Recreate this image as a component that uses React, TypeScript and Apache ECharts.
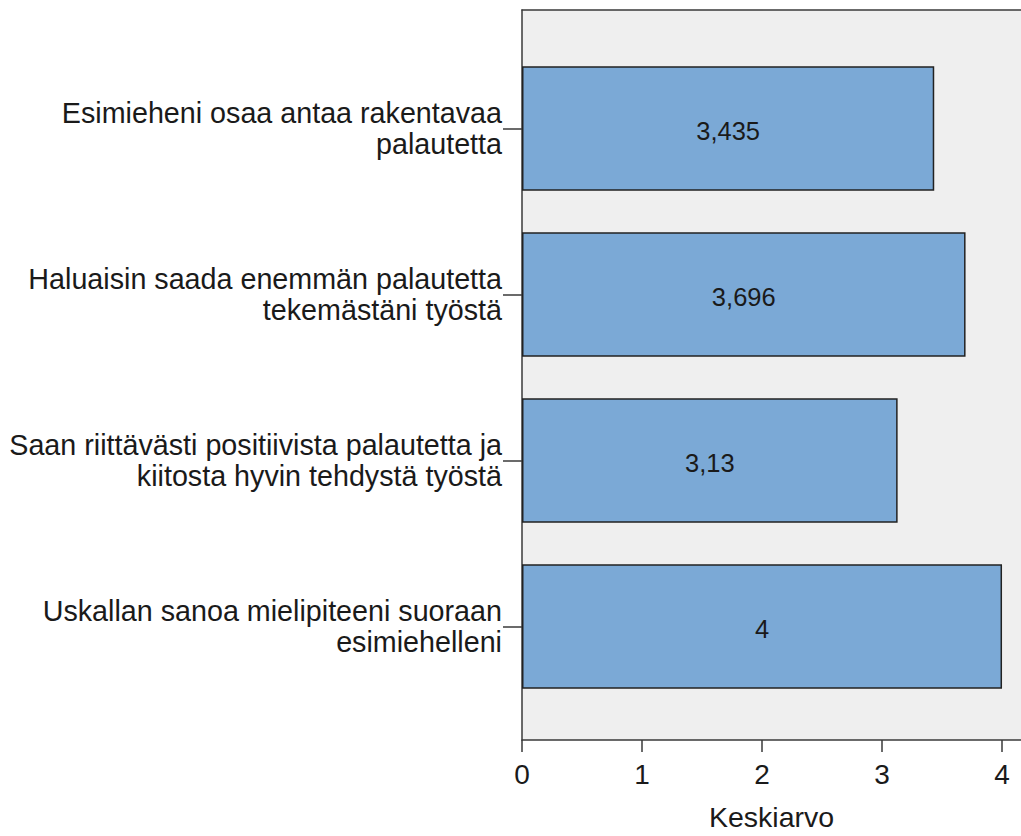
import React, { useEffect, useRef } from "react";
import * as echarts from "echarts";

// Item statements (y categories, top to bottom)
const categories: string[] = [
  "Esimieheni osaa antaa rakentavaa\npalautetta",
  "Haluaisin saada enemmän palautetta\ntekemästäni työstä",
  "Saan riittävästi positiivista palautetta ja\nkiitosta hyvin tehdystä työstä",
  "Uskallan sanoa mielipiteeni suoraan\nesimiehelleni",
];

// Mean scores per statement
const means: number[] = [3.435, 3.696, 3.13, 4];

// X axis ticks
const xTicks: number[] = [0, 1, 2, 3, 4];
const xAxisMax = 4.158;
const xAxisName = "Keskiarvo";

const FONT = "'Liberation Sans', Arial, sans-serif";
const AXIS = "#3a3a3a";
const fmtFi = (v: number) => String(v).replace(".", ",");

export default function App() {
  const ref = useRef<HTMLDivElement>(null);

  useEffect(() => {
    if (!ref.current) return;
    const chart = echarts.init(ref.current, undefined, { renderer: "svg" });

    chart.setOption({
      animation: false,
      backgroundColor: "#ffffff",
      grid: [
        // Plot background and x axis
        {
          left: 522,
          top: 10,
          width: 499,
          height: 736,
          show: true,
          backgroundColor: "#efefef",
          borderWidth: 0,
        },
        // Bars
        {
          left: 522,
          top: 45.5,
          width: 499,
          height: 664,
        },
      ],
      xAxis: [
        {
          gridIndex: 0,
          type: "value",
          min: xTicks[0],
          max: xAxisMax,
          interval: 1,
          splitLine: { show: false },
          axisLine: { show: true, lineStyle: { color: AXIS, width: 1.5 } },
          axisTick: { show: true, length: 12, lineStyle: { color: AXIS, width: 1.5 } },
          axisLabel: {
            margin: 20,
            fontSize: 28,
            fontFamily: FONT,
            color: "#1a1a1a",
            showMaxLabel: false,
            formatter: (v: number) => (xTicks.includes(v) ? String(v) : ""),
          },
          name: xAxisName,
          nameLocation: "middle",
          nameGap: 62,
          nameTextStyle: { fontSize: 28.5, fontFamily: FONT, color: "#1a1a1a" },
        },
        // Top frame line
        {
          gridIndex: 0,
          type: "value",
          position: "top",
          min: xTicks[0],
          max: xAxisMax,
          splitLine: { show: false },
          axisLine: { show: true, lineStyle: { color: AXIS, width: 1.5 } },
          axisTick: { show: false },
          axisLabel: { show: false },
        },
        {
          gridIndex: 1,
          type: "value",
          min: xTicks[0],
          max: xAxisMax,
          show: false,
        },
      ],
      yAxis: [
        // Left frame line
        {
          gridIndex: 0,
          type: "value",
          splitLine: { show: false },
          axisLine: { show: true, lineStyle: { color: AXIS, width: 1.5 } },
          axisTick: { show: false },
          axisLabel: { show: false },
        },
        {
          gridIndex: 1,
          type: "category",
          inverse: true,
          data: categories,
          axisLine: { show: false },
          axisTick: {
            show: true,
            alignWithLabel: true,
            length: 19,
            lineStyle: { color: AXIS, width: 1.5 },
          },
          axisLabel: {
            margin: 20,
            fontSize: 28.7,
            lineHeight: 31,
            fontFamily: FONT,
            color: "#1a1a1a",
            align: "right",
            padding: [9, 0, 0, 0],
          },
        },
      ],
      series: [
        {
          type: "bar",
          xAxisIndex: 2,
          yAxisIndex: 1,
          data: means,
          barCategoryGap: "25%",
          itemStyle: {
            color: "#7ba9d6",
            borderColor: "#222222",
            borderWidth: 1.5,
          },
          label: {
            show: true,
            position: "inside",
            offset: [0, 2],
            fontSize: 25.5,
            fontFamily: FONT,
            color: "#1a1a1a",
            formatter: (p: any) => fmtFi(p.value),
          },
        },
      ],
    });

    return () => chart.dispose();
  }, []);

  return (
    <div
      ref={ref}
      style={{ position: "fixed", left: 0, top: 0, width: 1021, height: 836 }}
    />
  );
}
